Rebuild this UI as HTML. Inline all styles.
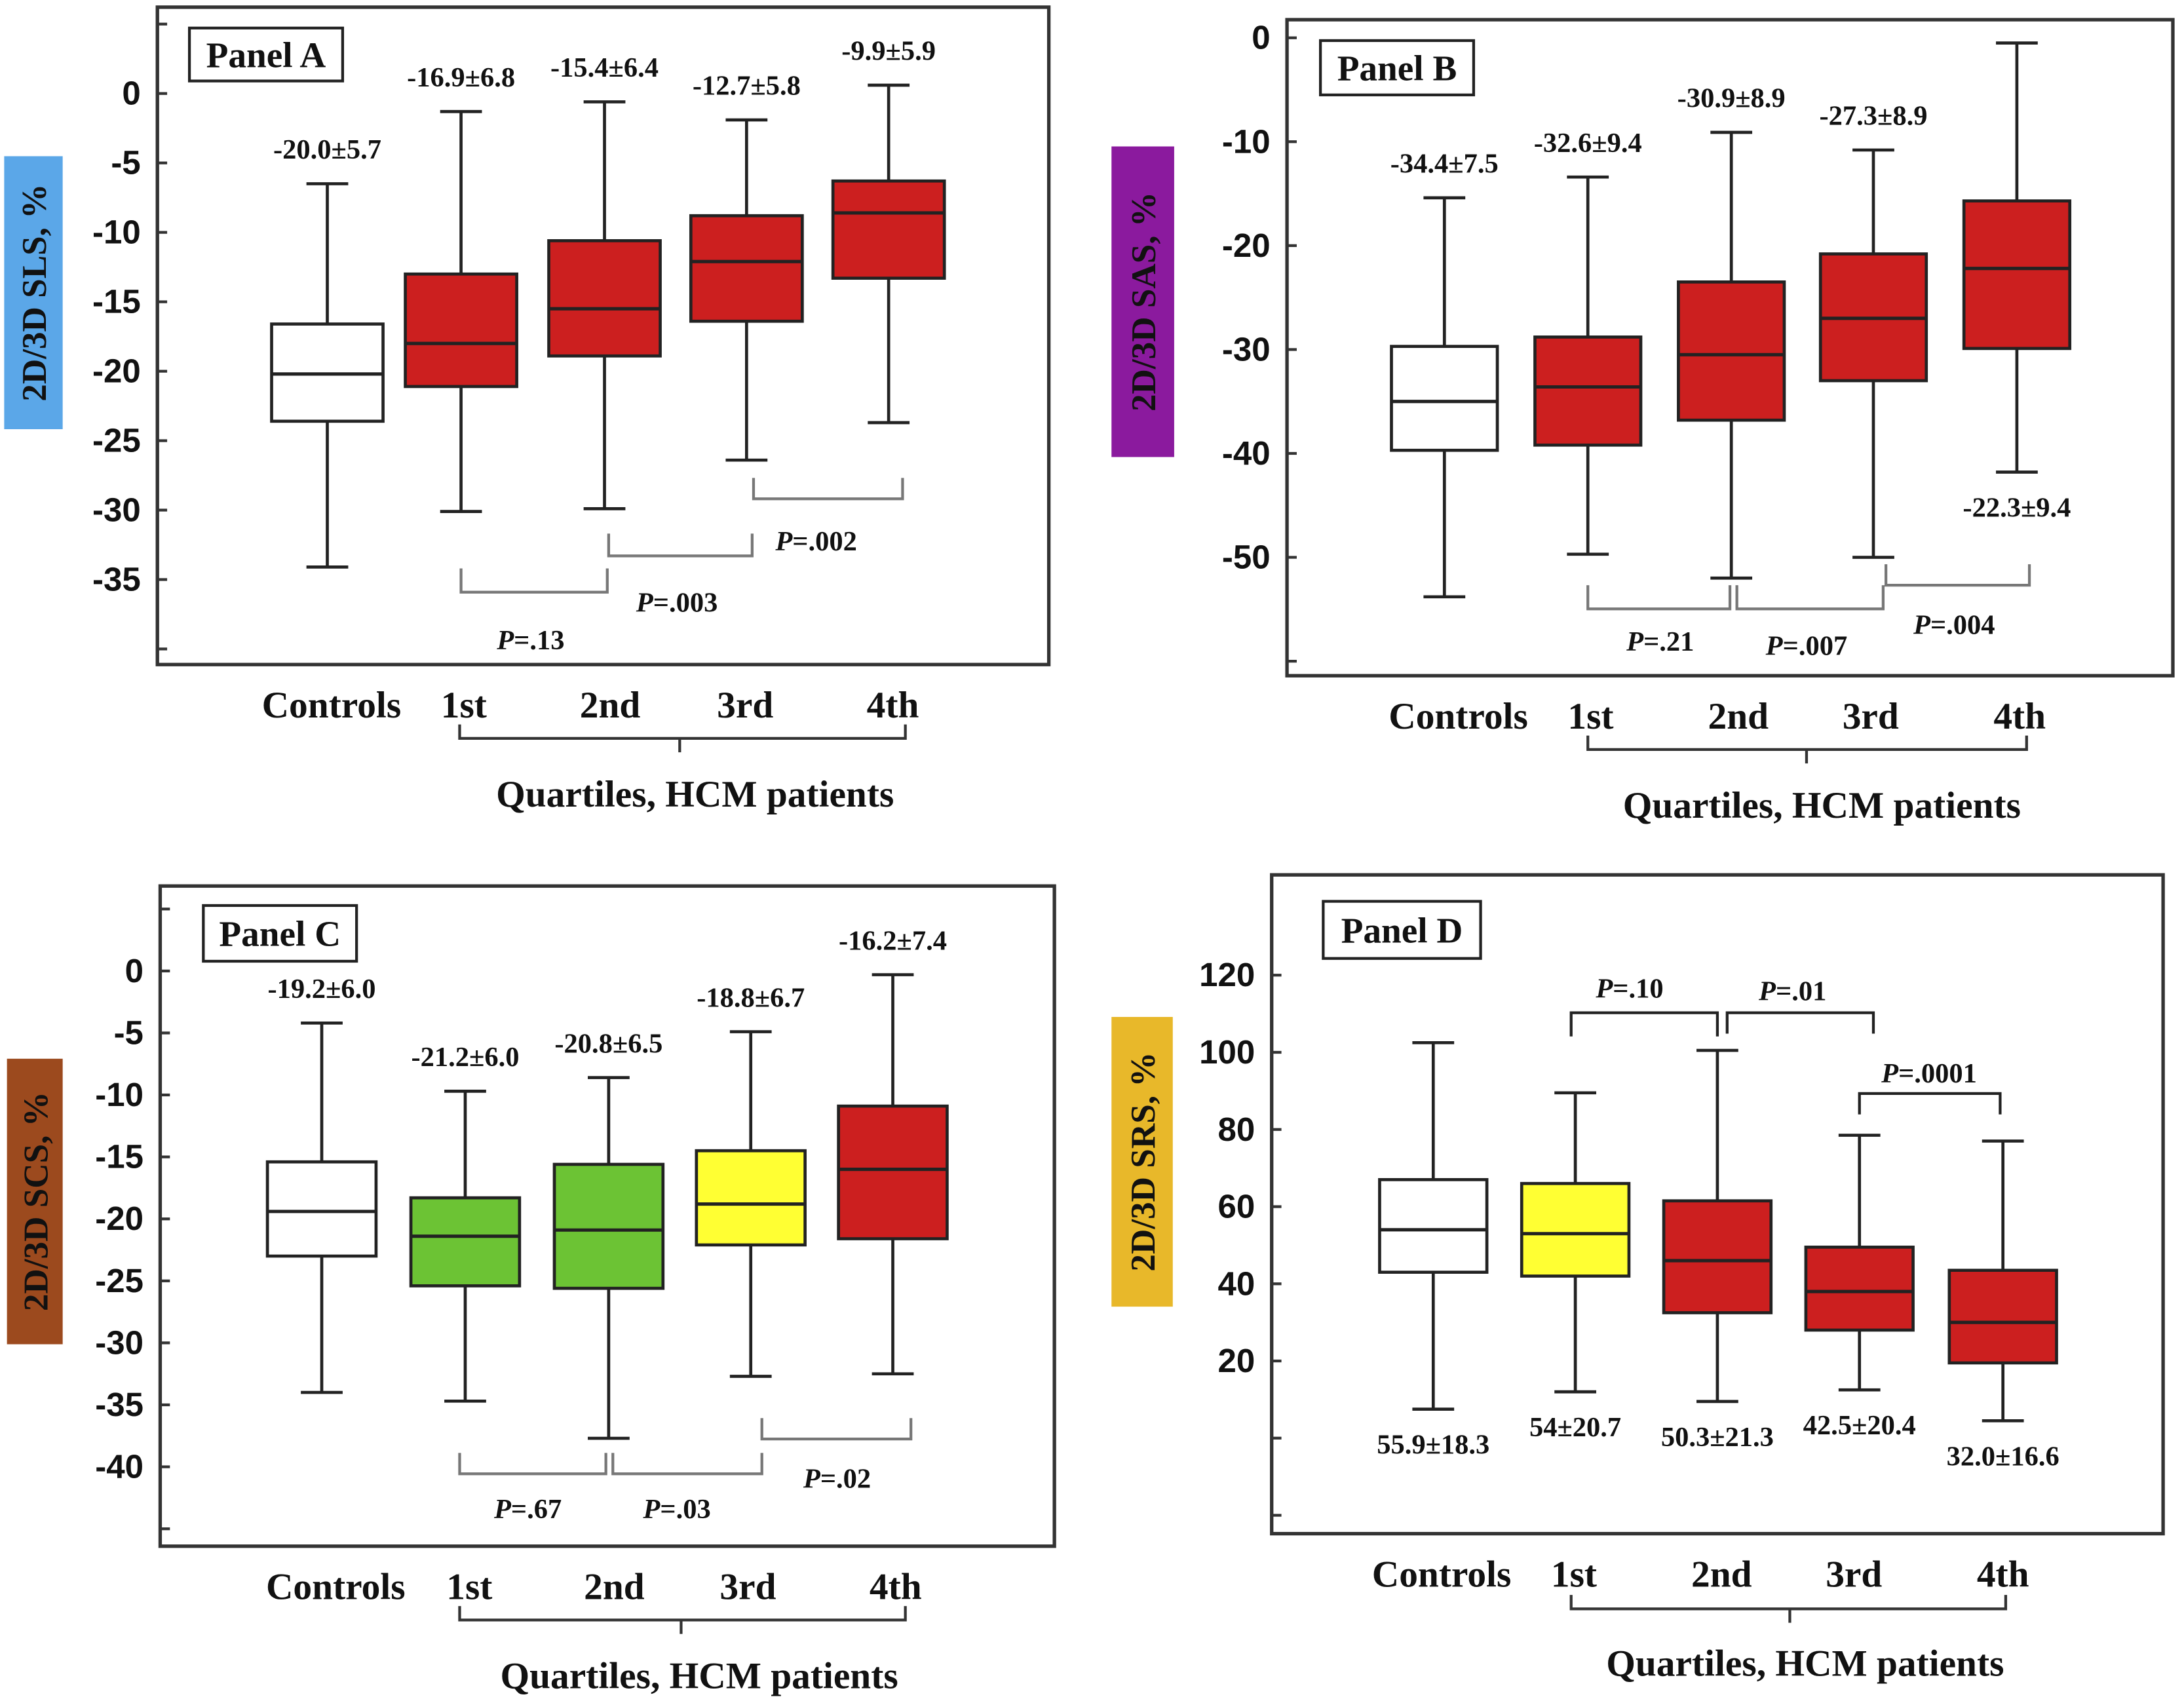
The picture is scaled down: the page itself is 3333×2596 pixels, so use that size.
<!DOCTYPE html>
<html><head><meta charset="utf-8"><style>
html,body{margin:0;padding:0;background:#fff;}
svg{display:block;}
.tk{font-family:"Liberation Sans",sans-serif;font-size:24px;fill:#111;font-weight:bold;}
.st{font-family:"Liberation Serif",serif;font-size:20px;fill:#111;font-weight:bold;}
.xl{font-family:"Liberation Serif",serif;font-size:27px;fill:#111;font-weight:bold;}
.pl{font-family:"Liberation Serif",serif;font-size:20px;fill:#111;font-weight:bold;}
.pn{font-family:"Liberation Serif",serif;font-size:26px;fill:#111;font-weight:bold;}
</style></head><body>
<svg id="chart" width="3333" height="2596" viewBox="0 0 1568 1221" xmlns="http://www.w3.org/2000/svg"></svg>
<script>
const categories = ["Controls","1st","2nd","3rd","4th"];
// Panel A (SLS)
const aTop=[-6.5,-1.3,-0.6,-1.9,0.6], aQ3=[-16.6,-13,-10.6,-8.8,-6.3], aMed=[-20.2,-18,-15.5,-12.1,-8.6], aQ1=[-23.6,-21.1,-18.9,-16.4,-13.3], aBot=[-34.1,-30.1,-29.9,-26.4,-23.7];
const aStats=["-20.0±5.7","-16.9±6.8","-15.4±6.4","-12.7±5.8","-9.9±5.9"];
const aTicks=[0,-5,-10,-15,-20,-25,-30,-35];
const aP=["P=.13","P=.003","P=.002"];
// Panel B (SAS)
const bTop=[-15.4,-13.4,-9.1,-10.8,-0.5], bQ3=[-29.7,-28.8,-23.5,-20.8,-15.7], bMed=[-35,-33.6,-30.5,-27,-22.2], bQ1=[-39.7,-39.2,-36.8,-33,-29.9], bBot=[-53.8,-49.7,-52,-50,-41.8];
const bStats=["-34.4±7.5","-32.6±9.4","-30.9±8.9","-27.3±8.9","-22.3±9.4"];
const bTicks=[0,-10,-20,-30,-40,-50];
const bP=["P=.21","P=.007","P=.004"];
// Panel C (SCS)
const cTop=[-4.2,-9.7,-8.6,-4.9,-0.3], cQ3=[-15.4,-18.3,-15.6,-14.5,-10.9], cMed=[-19.4,-21.4,-20.9,-18.8,-16], cQ1=[-23,-25.4,-25.6,-22.1,-21.6], cBot=[-34,-34.7,-37.7,-32.7,-32.5];
const cStats=["-19.2±6.0","-21.2±6.0","-20.8±6.5","-18.8±6.7","-16.2±7.4"];
const cTicks=[0,-5,-10,-15,-20,-25,-30,-35,-40];
const cP=["P=.67","P=.03","P=.02"];
// Panel D (SRS)
const dTop=[102.5,89.5,100.5,78.5,77], dQ3=[67,66,61.5,49.5,43.5], dMed=[54,53,46,38,30], dQ1=[43,42,32.5,28,19.5], dBot=[7.5,12,9.5,12.5,4.5];
const dStats=["55.9±18.3","54±20.7","50.3±21.3","42.5±20.4","32.0±16.6"];
const dTicks=[120,100,80,60,40,20];
const dP=["P=.10","P=.01","P=.0001"];

const NS="http://www.w3.org/2000/svg";
const svg=document.getElementById('chart');
function mk(tag,attrs,parent){const e=document.createElementNS(NS,tag);for(const k in attrs)e.setAttribute(k,attrs[k]);(parent||svg).appendChild(e);return e;}
function txt(x,y,s,cls,anchor,parent){const t=mk('text',{x:x,y:y,class:cls,'text-anchor':anchor||'middle'},parent);t.textContent=s;return t;}

const RED="#cc1f1f",GREEN="#6cc334",YEL="#ffff33",WHITE="#ffffff";
const panels=[
 {id:'a',name:'A',fr:[113,5,753,477],v0:0,y0:67,ppu:9.97,extraTicks:[5,-40],cx:[235,331,434,536,638],bw:80,
  top:aTop,q3:aQ3,med:aMed,q1:aQ1,bot:aBot,stats:aStats,statPos:'above',ticks:aTicks,
  fills:[WHITE,RED,RED,RED,RED],
  br:[[331,436,425,408,381,466],[437,540,399,383,486,439],[541,648,358,343,586,395]],pv:aP,up:true,
  xl:[238,333,438,535,641],xly:515,brace:[330,650,530,488],tt:[499,579],
  yb:[3,112,42,196,'#5ba7e8','2D/3D SLS, %'],pb:[136,20,110,38]},
 {id:'b',name:'B',fr:[924,14,1560,485],v0:0,y0:27,ppu:7.46,extraTicks:[-60],cx:[1037,1140,1243,1345,1448],bw:76,
  top:bTop,q3:bQ3,med:bMed,q1:bQ1,bot:bBot,stats:bStats,statPos:'aboveLastBelow',ticks:bTicks,
  fills:[WHITE,RED,RED,RED,RED],
  br:[[1140,1242,437,420,1192,467],[1247,1352,437,420,1297,470],[1354,1457,420,405,1403,455]],pv:bP,up:true,
  xl:[1047,1142,1248,1343,1450],xly:523,brace:[1140,1455,538,1297],tt:[1308,587],
  yb:[798,105,45,223,'#8b1a9e','2D/3D SAS, %'],pb:[948,29,110,39]},
 {id:'c',name:'C',fr:[115,636,757,1110],v0:0,y0:697,ppu:8.9,extraTicks:[5,-45],cx:[231,334,437,539,641],bw:78,
  top:cTop,q3:cQ3,med:cMed,q1:cQ1,bot:cBot,stats:cStats,statPos:'above',ticks:cTicks,
  fills:[WHITE,GREEN,GREEN,YEL,RED],
  br:[[330,435,1058,1043,379,1090],[440,547,1058,1043,486,1090],[547,654,1033,1018,601,1068]],pv:cP,up:true,
  xl:[241,337,441,537,643],xly:1148,brace:[330,650,1163,489],tt:[502,1212],
  yb:[5,760,40,205,'#9c4a1e','2D/3D SCS, %'],pb:[146,650,110,40]},
 {id:'d',name:'D',fr:[913,628,1553,1101],v0:120,y0:700,ppu:2.77,extraTicks:[0,-20],cx:[1029,1131,1233,1335,1438],bw:77,
  top:dTop,q3:dQ3,med:dMed,q1:dQ1,bot:dBot,stats:dStats,statPos:'below',ticks:dTicks,
  fills:[WHITE,YEL,RED,RED,RED],
  br:[[1128,1233,727,744,1170,716],[1240,1345,727,742,1287,718],[1335,1436,785,800,1385,777]],pv:dP,up:false,
  xl:[1035,1130,1236,1331,1438],xly:1139,brace:[1128,1440,1155,1285],tt:[1296,1203],
  yb:[798,730,44,208,'#e8b82a','2D/3D SRS, %'],pb:[950,647,113,41]}
];
panels.forEach(p=>{
  const g=mk('g',{});
  
  
  const Y=v=>p.y0+(p.v0-v)*p.ppu;
  const f=p.fr;
  const fr=mk('rect',{x:f[0],y:f[1],width:f[2]-f[0],height:f[3]-f[1],fill:'none',stroke:'#333','stroke-width':2.5},g);
  
  
  const yaxis=mk('g',{},g);
  
  
  p.ticks.concat(p.extraTicks).forEach(t=>{
    mk('line',{x1:f[0],x2:f[0]+7,y1:Y(t),y2:Y(t),stroke:'#333','stroke-width':2},yaxis);
  });
  p.ticks.forEach(t=>{
    const tl=txt(f[0]-12,Y(t)+8,String(t),'tk','end',yaxis);
    
    
  });
  categories.forEach((c,i)=>{
    const bg=mk('g',{},g);
    
    
    const x=p.cx[i],h=p.bw/2,cap=15;
    mk('line',{x1:x,x2:x,y1:Y(p.top[i]),y2:Y(p.bot[i]),stroke:'#222','stroke-width':2.2},bg);
    mk('line',{x1:x-cap,x2:x+cap,y1:Y(p.top[i]),y2:Y(p.top[i]),stroke:'#222','stroke-width':2.2},bg);
    mk('line',{x1:x-cap,x2:x+cap,y1:Y(p.bot[i]),y2:Y(p.bot[i]),stroke:'#222','stroke-width':2.2},bg);
    mk('rect',{x:x-h,y:Y(p.q3[i]),width:p.bw,height:Y(p.q1[i])-Y(p.q3[i]),fill:p.fills[i],stroke:'#222','stroke-width':2.2},bg);
    mk('line',{x1:x-h,x2:x+h,y1:Y(p.med[i]),y2:Y(p.med[i]),stroke:'#222','stroke-width':2.4},bg);
    let below = p.statPos==='below' || (p.statPos==='aboveLastBelow' && i===4);
    const sy = below ? Y(p.bot[i])+32 : Y(p.top[i])-18;
    const sl=txt(x,sy,p.stats[i],'st','middle',bg);
    
    
    const xl=txt(p.xl[i],p.xly,c,'xl','middle',g);
    
    
  });
  p.br.forEach((b,k)=>{
    const bk=mk('path',{d:`M${b[0]},${b[3]} L${b[0]},${b[2]} L${b[1]},${b[2]} L${b[1]},${b[3]}`,fill:'none',stroke:p.up?'#777':'#222','stroke-width':2},g);
    
    
    const t=mk('text',{x:b[4],y:b[5],class:'pl','text-anchor':'middle'},g);
    
    
    const it=mk('tspan',{'font-style':'italic'},t);it.textContent='P';
    const rt=mk('tspan',{},t);rt.textContent=p.pv[k].slice(1);
  });
  const br=p.brace;
  const bp=mk('path',{d:`M${br[0]},${br[2]-10} L${br[0]},${br[2]} L${br[1]},${br[2]} L${br[1]},${br[2]-10} M${br[3]},${br[2]} L${br[3]},${br[2]+10}`,fill:'none',stroke:'#333','stroke-width':2},g);
  
  
  const tt=txt(p.tt[0],p.tt[1],'Quartiles, HCM patients','xl','middle',g);
  
  
  const yb=p.yb;
  const yg=mk('g',{},g);
  
  
  mk('rect',{x:yb[0],y:yb[1],width:yb[2],height:yb[3],fill:yb[4]},yg);
  const cxp=yb[0]+yb[2]/2+9, cyp=yb[1]+yb[3]/2;
  const yt=txt(cxp,cyp,yb[5],'xl','middle',yg);
  yt.setAttribute('transform',`rotate(-90 ${cxp} ${cyp})`);
  yt.setAttribute('style','font-size:25px');
  const pb=p.pb;
  const pg=mk('g',{},g);
  
  
  mk('rect',{x:pb[0],y:pb[1],width:pb[2],height:pb[3],fill:'#fff',stroke:'#222','stroke-width':2},pg);
  txt(pb[0]+pb[2]/2,pb[1]+pb[3]/2+9,'Panel '+p.name,'pn','middle',pg);
});
</script>
</body></html>
